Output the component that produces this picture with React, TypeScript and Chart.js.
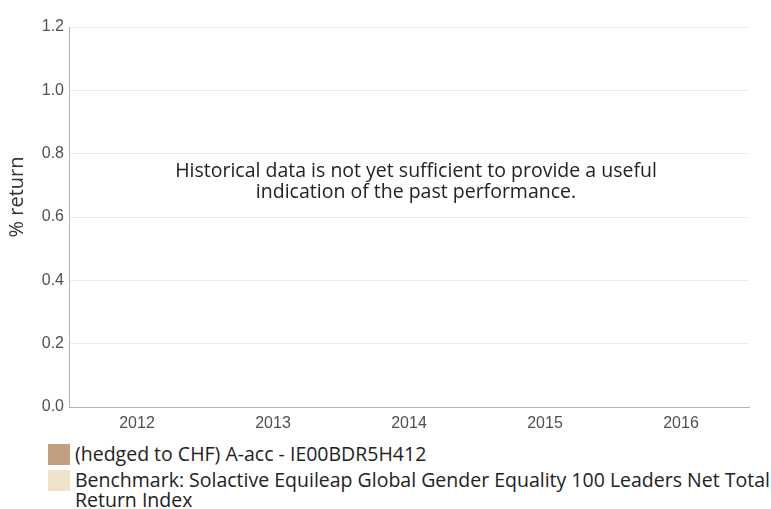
import React, { useEffect, useRef } from "react";
import { Chart, registerables } from "chart.js";

Chart.register(...registerables);

const categories = ["2012", "2013", "2014", "2015", "2016"];
const fundValues: (number | null)[] = [null, null, null, null, null];
const benchmarkValues: (number | null)[] = [null, null, null, null, null];
const yTicks = [0, 0.2, 0.4, 0.6, 0.8, 1.0, 1.2];
const yTitle = "% return";
const fundLabel = "(hedged to CHF) A-acc - IE00BDR5H412";
const benchmarkLabel =
  "Benchmark: Solactive Equileap Global Gender Equality 100 Leaders Net Total Return Index";
const messageLines = [
  "Historical data is not yet sufficient to provide a useful",
  "indication of the past performance.",
];
const fundColor = "#c19f7f";
const benchmarkColor = "#efe3ca";

const overlayPlugin = {
  id: "overlayPlugin",
  afterDraw(chart: any) {
    const { ctx, chartArea } = chart;
    const cx = (chartArea.left + chartArea.right) / 2 + 7;
    ctx.save();
    ctx.font = '19.5px "Open Sans"';
    ctx.fillStyle = "#222";
    ctx.textAlign = "center";
    ctx.textBaseline = "middle";
    messageLines.forEach((line, i) => {
      ctx.fillText(line, cx, chartArea.top + 144 + i * 21);
    });
    ctx.restore();

    ctx.save();
    ctx.translate(17, chartArea.top + 170);
    ctx.rotate(-Math.PI / 2);
    ctx.font = '20px "Open Sans"';
    ctx.fillStyle = "#333";
    ctx.textAlign = "center";
    ctx.textBaseline = "middle";
    ctx.fillText(yTitle, 0, 0);
    ctx.restore();
  },
};

export default function App() {
  const ref = useRef<HTMLCanvasElement>(null);
  useEffect(() => {
    document.body.style.margin = "0";
    const chart = new Chart(ref.current!, {
      type: "bar",
      data: {
        labels: categories,
        datasets: [
          { label: fundLabel, data: fundValues, backgroundColor: fundColor },
          { label: benchmarkLabel, data: benchmarkValues, backgroundColor: benchmarkColor },
        ],
      },
      options: {
        animation: false,
        responsive: false,
        maintainAspectRatio: false,
        layout: { padding: { top: 27, right: 22, left: 0, bottom: 0 } },
        plugins: { legend: { display: false }, tooltip: { enabled: false } },
        scales: {
          x: {
            grid: { display: false, drawTicks: false },
            border: { color: "#b3b3b3", width: 1 },
            ticks: {
              color: "#505050",
              font: { family: "Liberation Sans", size: 16 },
              padding: 7,
              maxRotation: 0,
            },
            afterFit: (s: any) => {
              s.height = 33;
            },
          },
          y: {
            min: 0,
            max: 1.2,
            afterBuildTicks: (s: any) => {
              s.ticks = yTicks.map((v) => ({ value: v }));
            },
            grid: { color: "#ebebeb", drawTicks: false },
            border: { color: "#b3b3b3", width: 1 },
            ticks: {
              color: "#505050",
              font: { family: "Liberation Sans", size: 16 },
              padding: 5,
              callback: (v: any) => Number(v).toFixed(1),
            },
            afterFit: (s: any) => {
              s.width = 69;
            },
          },
        },
      },
      plugins: [overlayPlugin],
    });
    return () => chart.destroy();
  }, []);

  const item = (color: string, text: string) => (
    <div style={{ display: "flex", alignItems: "flex-start", marginBottom: 5 }}>
      <div style={{ width: 22, height: 21, background: color, flex: "0 0 auto", marginRight: 5 }} />
      <div style={{ fontSize: 19.5, lineHeight: "20px", color: "#222" }}>{text}</div>
    </div>
  );

  return (
    <div style={{ position: "relative", width: 771, height: 509, fontFamily: '"Open Sans"' }}>
      <canvas ref={ref} width={771} height={440} style={{ display: "block" }} />
      <div style={{ position: "absolute", left: 48, top: 444, width: 723 }}>
        {item(fundColor, fundLabel)}
        {item(benchmarkColor, benchmarkLabel)}
      </div>
    </div>
  );
}
